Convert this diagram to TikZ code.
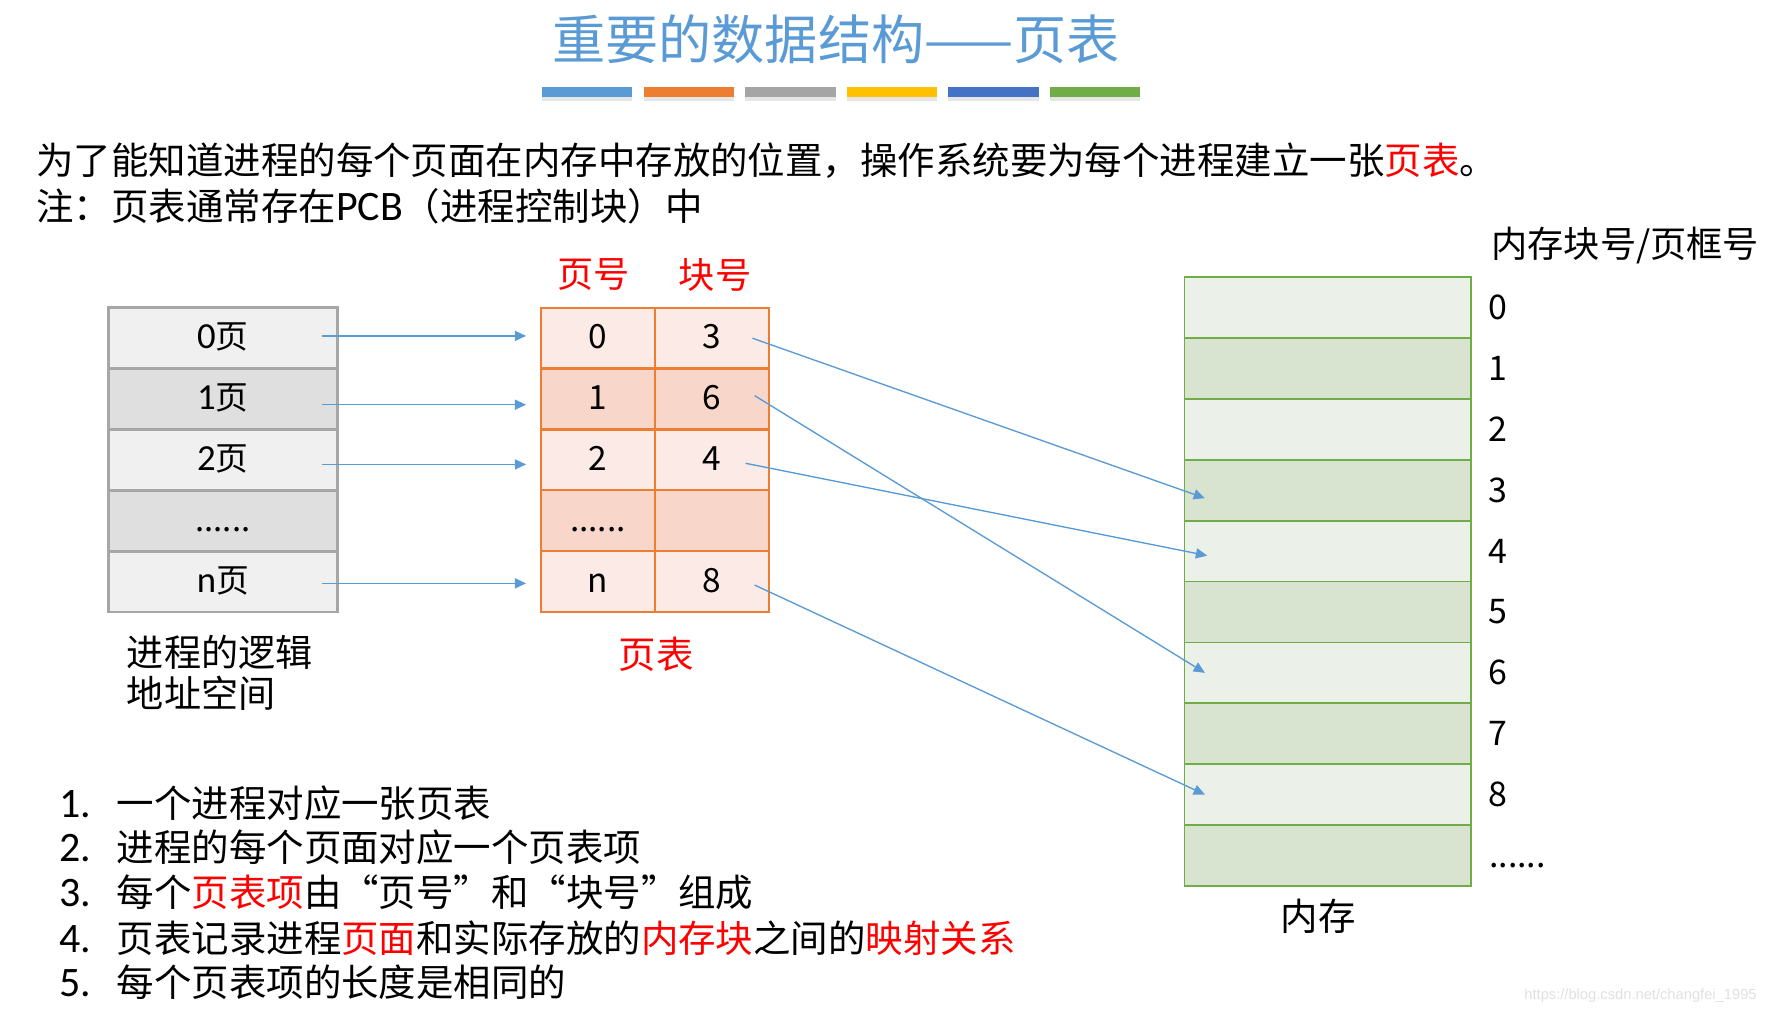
\documentclass[tikz,border=0pt]{standalone}
\usepackage{fontspec}
\setmainfont{Noto Sans CJK SC}
\newfontfamily\latin{Carlito}[Scale=1.12]
\newfontfamily\webfont{Liberation Sans}
\usetikzlibrary{positioning,arrows.meta,shadows}

\definecolor{titleblue}{HTML}{5B9BD5}
\definecolor{barorange}{HTML}{ED7D31}
\definecolor{bargray}{HTML}{A5A5A5}
\definecolor{baryellow}{HTML}{FFC000}
\definecolor{bardarkblue}{HTML}{4472C4}
\definecolor{bargreen}{HTML}{70AD47}
\definecolor{logline}{HTML}{A6A6A6}
\definecolor{logL}{HTML}{F0F0F0}
\definecolor{logD}{HTML}{DFDFDF}
\definecolor{ptline}{HTML}{ED7D31}
\definecolor{ptL}{HTML}{FBEAE5}
\definecolor{ptD}{HTML}{F8D6CA}
\definecolor{memline}{HTML}{70AD47}
\definecolor{memL}{HTML}{EBF1E9}
\definecolor{memD}{HTML}{D8E4D0}
\definecolor{hl}{HTML}{FF0000}

\tikzset{
  body/.style={font=\fontsize{33.1}{38}\selectfont, inner sep=0pt},
  logcell/.style={draw=logline, line width=2.4pt, outer sep=0pt, inner sep=0pt,
    minimum width=202pt, minimum height=53.8pt, text height=19pt, text depth=0pt,
    font=\fontsize{29}{30}\selectfont},
  ptcell/.style={draw=ptline, line width=2pt, outer sep=0pt, inner sep=0pt,
    minimum width=101pt, minimum height=53.8pt, text height=19pt, text depth=0pt,
    font=\fontsize{29.5}{30}\selectfont},
  memcell/.style={draw=memline, line width=1.6pt, outer sep=0pt,
    minimum width=253pt, minimum height=53.8pt},
  memnum/.style={font=\fontsize{30}{32}\selectfont, inner sep=0pt},
  maplink/.style={draw=titleblue, line width=1.2pt, -{Triangle[length=10pt,width=9pt]}},
}

\begin{document}
\begin{tikzpicture}[x=1pt, y=-1pt]
  \useasboundingbox (0,0) rectangle (1568,897);

  % title and colour bars
  \node[font=\fontsize{47}{50}\selectfont, text=titleblue] (title) at (739,35) {重要的数据结构——页表};
  \foreach \c [count=\k from 0] in {titleblue,barorange,bargray,baryellow,bardarkblue,bargreen}
    \fill[\c, drop shadow={shadow xshift=0pt,shadow yshift=-3pt,opacity=0.2}] ({479+89.8*\k},77) rectangle ++(80,9);

  \node[body, anchor=west] (intro) at (32,142) {为了能知道进程的每个页面在内存中存放的位置，操作系统要为每个进程建立一张\textcolor{hl}{页表}。};
  \node[body, anchor=west] (note) at (32,182) {注：页表通常存在{\latin PCB}（进程控制块）中};

  % logical address space
  \foreach \i/\lbl/\f in {0/{{\latin 0}页}/logL, 1/{{\latin 1}页}/logD, 2/{{\latin 2}页}/logL, 3/{......}/logD, 4/{{\latin n}页}/logL}
    \node[logcell, fill=\f] (lp\i) at (197,{298.9+53.8*\i}) {\lbl};
  \node[body, anchor=west, align=left, font=\fontsize{32.8}{36}\selectfont] (logcap) at (112,595) {进程的逻辑\\地址空间};

  % page table
  \foreach \i/\pn/\bn/\f in {0/0/3/ptL, 1/1/6/ptD, 2/2/4/ptL, 3/{......}/{}/ptD, 4/n/8/ptL}{
    \node[ptcell, fill=\f] (pg\i) at (528.5,{298.9+53.8*\i}) {\pn};
    \node[ptcell, fill=\f, right=0pt of pg\i] (bk\i) {\bn};
  }
  \node[body, text=hl, font=\fontsize{32}{34}\selectfont] (pghdr) at (525,243) {页号};
  \node[body, text=hl, font=\fontsize{32}{34}\selectfont] (bkhdr) at (632,243) {块号};
  \node[body, text=hl] (ptcap) at (580,578) {页表};

  % memory
  \foreach \i in {0,...,9}{
    \ifodd\i\relax \def\mf{memD}\else \def\mf{memL}\fi
    \node[memcell, fill=\mf] (mb\i) at (1173.5,{271.9+53.8*\i}) {};
  }
  \foreach \i in {0,...,8}
    \node[memnum, anchor=west] (mn\i) at ([xshift=15pt]mb\i.east) {\i};
  \node[memnum, anchor=base west] (mndots) at (1316,767) {......};
  \node[body, anchor=west, font=\fontsize{32}{34}\selectfont] (memhdr) at (1318,217) {内存块号/页框号};
  \node[body] (memcap) at (1165,810) {内存};

  % page -> page table entry
  \foreach \i/\dy in {0/2,1/-5,2/-4,4/-1.5}
    \draw[maplink] ([xshift=-13pt,yshift=\dy]lp\i.east) -- ([xshift=-13pt,yshift=\dy]pg\i.west);

  % block number -> memory block
  \draw[maplink] ([xshift=-15pt]bk0.east) -- ([xshift=18pt,yshift=-7pt]mb3.west);
  \draw[maplink] ([xshift=-13pt,yshift=3pt]bk1.east) -- ([xshift=18pt]mb6.west);
  \draw[maplink] ([xshift=-21pt,yshift=-3pt]bk2.east) -- ([xshift=20pt,yshift=-4pt]mb4.west);
  \draw[maplink] ([xshift=-13pt,yshift=-3pt]bk4.east) -- ([xshift=18pt]mb8.west);

  % summary list
  \node[body, anchor=west] (item1) at (52,710) {\makebox[51pt][l]{\latin 1.}一个进程对应一张页表};
  \node[body, anchor=west] (item2) at (52,749) {\makebox[51pt][l]{\latin 2.}进程的每个页面对应一个页表项};
  \node[body, anchor=west] (item3) at (52,789) {\makebox[51pt][l]{\latin 3.}每个\textcolor{hl}{页表项}由“页号”和“块号”组成};
  \node[body, anchor=west] (item4) at (52,829) {\makebox[51pt][l]{\latin 4.}页表记录进程\textcolor{hl}{页面}和实际存放的\textcolor{hl}{内存块}之间的\textcolor{hl}{映射关系}};
  \node[body, anchor=west] (item5) at (52,868) {\makebox[51pt][l]{\latin 5.}每个页表项的长度是相同的};

  \node[font=\webfont\fontsize{13}{15}\selectfont, text=black!12] (wm) at (1450,880) {https://blog.csdn.net/changfei\_1995};
\end{tikzpicture}
\end{document}
